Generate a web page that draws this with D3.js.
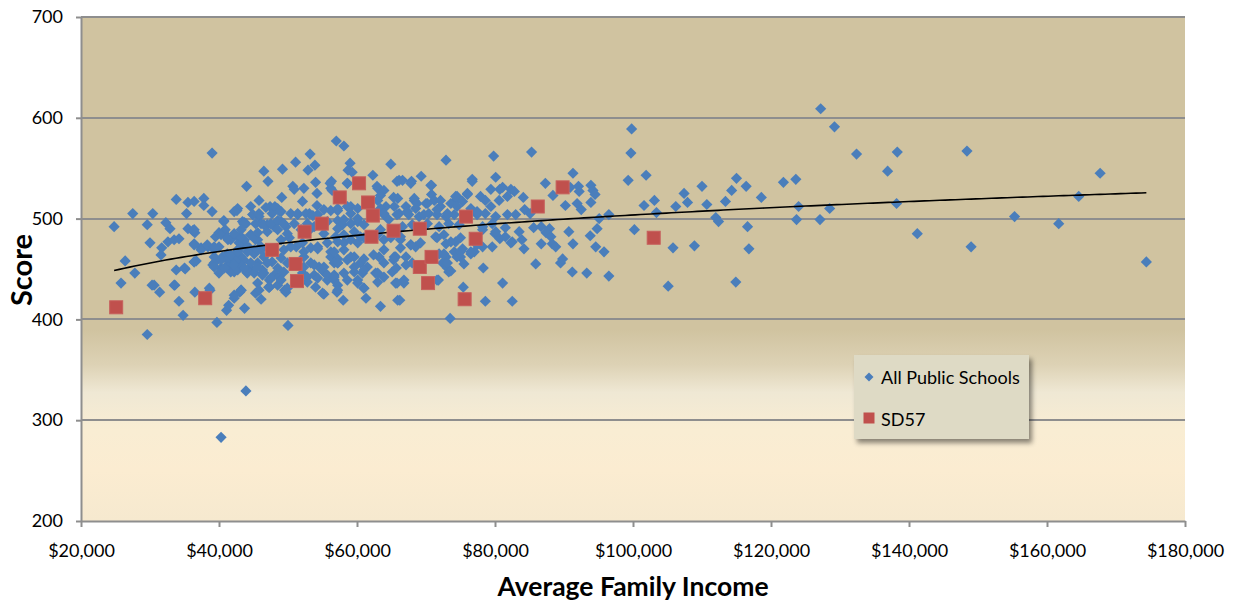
<!DOCTYPE html>
<html>
<head>
<meta charset="utf-8">
<script src="https://cdn.jsdelivr.net/npm/d3@7"></script>
<style>
html,body{margin:0;padding:0;background:#fff;}
svg{display:block;font-family:Lato,"Open Sans",sans-serif;}
</style>
</head>
<body>
<svg id="chart" width="1237" height="605"></svg>
<script>
// ---------- DATA (income in $ thousands, score) ----------
const seriesNames = ["All Public Schools", "SD57"];
const xTickValues = [20, 40, 60, 80, 100, 120, 140, 160, 180];
const yTickValues = [200, 300, 400, 500, 600, 700];

const allPublicSchools = [
[39.0,565],[24.8,492],[27.5,505],[30.4,505],[29.6,494],[30.0,476],[26.4,458],[25.8,436],[27.8,446],[30.3,434],[31.4,427],[29.6,385],[33.8,519],[35.5,516],[36.4,517],[37.8,520],[37.8,513],[35.3,505],[39.0,507],[32.3,496],[32.9,490],[31.7,471],[32.6,477],[33.5,479],[34.2,480],[35.5,490],[36.2,488],[36.5,486],[36.4,475],[35.1,450],[33.8,449],[33.6,434],[34.2,418],[34.8,404],[36.5,427],[38.7,429],[39.7,397],[37.4,471],[38.4,472],[36.7,458],[43.9,329],[40.3,283],[40.7,498],[42.6,508],[44.0,532],[46.5,547],[47.1,537],[49.2,549],[51.1,556],[53.2,564],[52.9,548],[53.9,553],[54.0,536],[50.7,532],[52.3,530],[54.2,525],[49.1,521],[45.8,518],[44.6,512],[43.7,496],[40.0,486],[40.7,487],[41.3,479],[42.9,476],[43.6,477],[39.3,456],[40.3,451],[41.3,454],[42.2,447],[44.0,447],[43.0,427],[42.2,421],[41.1,409],[41.4,414],[43.7,411],[45.3,426],[46.1,420],[50.0,394],[47.2,432],[49.5,429],[55.2,425],
[57.0,577],[58.1,572],[59.0,555],[58.7,548],[59.3,546],[64.9,554],[62.3,543],[56.3,537],[58.6,535],[50.9,529],[56.2,530],[63.0,530],[63.9,528],[63.4,523],[63.0,518],[65.3,521],[66.1,538],[42.7,510],[52.1,517],[54.2,513],[55.2,509],[56.2,508],[57.2,508],[59.1,512],[60.1,510],[64.2,512],[65.4,512],[47.4,512],[48.5,510],[47.7,505],[49.0,507],[50.4,505],[51.4,504],[53.1,505],[54.3,504],[44.9,504],[45.8,502],[43.4,497],[43.9,495],[42.2,507],[46.1,495],[47.0,494],[48.0,492],[49.0,497],[49.7,492],[50.9,495],[52.8,495],[53.8,492],[55.7,497],[57.2,498],[57.9,494],[59.1,495],[60.1,497],[61.0,494],[63.9,504],[64.6,499],
[41.7,479],[42.7,482],[43.7,479],[44.6,484],[45.6,479],[43.2,472],[44.4,471],[45.1,469],[46.1,472],[49.0,479],[50.2,481],[51.2,472],[52.1,476],[53.3,471],[54.3,472],[55.7,476],[57.2,477],[58.1,476],[59.1,479],[60.1,476],[61.0,481],[63.0,484],[63.9,479],[64.9,481],
[42.2,462],[43.6,459],[44.6,451],[45.6,456],[46.5,462],[47.7,457],[49.0,461],[49.9,456],[52.3,462],[53.3,456],[54.5,452],[56.2,462],[57.2,456],[58.6,459],[59.6,462],[60.5,456],[61.5,452],[63.2,462],[63.9,456],[65.4,462],
[41.7,447],[42.7,449],[44.1,446],[46.5,446],[48.0,444],[49.4,447],[52.1,446],[53.8,444],[55.2,447],[56.7,444],[58.1,446],[59.6,447],[60.8,446],[62.7,446],[63.9,442],[65.1,447],
[47.3,439],[48.5,434],[49.7,427],[52.8,437],[55.7,439],[54.0,432],[57.2,434],[60.1,439],[61.0,431],[63.0,437],[55.0,426],[57.1,427],[58.0,419],[61.3,421],[63.4,413],[65.9,419],[65.7,451],
[72.9,558],[79.8,562],[85.3,566],[66.6,538],[67.9,537],[69.3,542],[70.8,533],[70.8,524],[76.7,539],[80.1,541],[80.7,529],[81.1,531],[82.3,529],[82.8,527],[79.4,529],[76.0,524],[74.5,522],[74.3,518],[87.3,535],[88.4,523],[84.1,521],[84.3,509],[85.1,505],[85.6,491],[86.7,492],[87.9,490],[87.4,486],[88.1,482],[81.5,491],[83.5,487],[83.9,479],[84.2,470],[80.0,485],[80.7,480],[82.3,476],[79.6,472],[86.7,475],[88.3,475],[88.8,472],[85.9,455],[89.5,456],[78.3,451],[81.1,436],[78.6,418],[82.5,418],[73.5,401],[66.2,419],[65.6,436],[66.8,436],[71.8,439],[75.4,432],[77.0,467],[77.2,476],
[65.9,520],[67.1,512],[68.3,518],[68.5,510],[70.0,515],[71.2,518],[72.1,512],[73.6,515],[75.3,517],[76.5,510],[77.9,522],[78.6,518],[79.4,512],[80.6,518],[81.8,522],
[66.1,505],[67.5,504],[69.0,502],[70.4,505],[71.6,504],[72.9,502],[74.1,504],[76.1,505],[77.4,504],[78.6,505],[80.1,502],[81.8,504],[83.0,504],
[66.6,492],[68.0,494],[70.2,495],[71.9,492],[73.3,495],[74.8,494],[78.2,492],[79.6,495],
[66.3,482],[67.8,474],[71.4,482],[72.9,475],[74.3,477],[75.3,470],[78.2,489],[80.1,487],[81.5,482],[82.5,477],[66.3,471],[68.5,472],
[67.1,462],[65.6,462],[71.9,465],[72.9,462],[74.1,467],[75.0,462],[76.5,465],[72.4,456],[73.1,451],[73.3,447],[67.1,454],[68.0,456],[78.2,472],
[39.3,469],[40.0,472],[40.5,462],[41.2,465],[42.0,459],[42.7,469],[43.2,462],[44.1,472],[44.6,456],[45.1,465],[39.1,454],[40.0,446],[41.2,459],[43.2,454],[44.1,449],[45.1,446],
[40.8,485],[39.5,482],[41.3,452],[42.4,458],[46.3,449],[43.2,482],[46.1,469],[45.3,479],[35.0,451],[31.6,464],[30.6,434],[33.5,434],[36.4,457],[38.6,431],[43.2,429],[45.6,436],[47.3,432],[48.7,442],[49.9,431],
[56.1,535],[56.4,528],[46.8,511],[48.1,512],[48.8,507],[51.4,505],[52.6,505],[53.6,503],[44.9,504],[45.8,505],[43.6,495],[45.3,495],[46.5,494],[47.5,495],[48.5,498],[49.4,495],
[40.7,497],[40.9,489],[40.3,484],[41.2,481],[42.2,485],[43.2,489],[44.6,484],[45.6,486],[47.0,487],[48.5,489],[49.9,485],[51.9,489],[53.3,490],[55.2,485],[57.2,490],
[36.4,489],[36.4,474],[37.4,469],[38.3,474],[39.3,472],[36.4,457],
[39.3,462],[40.3,459],[41.7,464],[42.7,467],[44.1,467],[45.6,469],[49.4,469],[50.4,472],[52.3,467],[54.3,470],[56.2,467],[57.2,460],
[39.3,452],[40.8,451],[42.2,454],[43.6,451],[45.6,452],[47.0,456],[48.5,451],[52.3,452],[53.8,454],[55.2,452],[56.7,456],
[46.3,444],[47.5,441],[49.0,439],[52.8,442],[54.3,441],[55.7,444],[56.7,439],[47.3,432],[45.8,429],[43.2,429],[42.2,424],
[58.6,535],[62.9,532],[65.8,537],[68.3,520],[68.7,515],[70.7,533],[67.8,535],[70.2,515],[72.1,518],[74.3,522],[76.0,525],[76.7,537],
[57.2,510],[58.6,512],[59.1,505],[58.1,499],[60.1,500],[63.4,510],[63.9,505],[65.8,504],[67.3,507],[69.7,504],[71.6,509],[73.1,505],[74.5,512],[77.4,507],
[56.9,482],[58.1,484],[59.6,487],[60.5,482],[63.4,489],[65.3,485],[66.3,479],[67.8,474],[69.2,476],[71.6,481],[72.6,484],[73.6,477],[75.0,481],[77.4,474],[76.5,467],[74.5,462],[72.6,465],
[56.7,467],[58.1,469],[59.1,462],[61.0,460],[62.4,464],[63.9,469],[65.3,459],[57.2,456],[59.6,452],[61.0,449],[63.0,446],[56.7,442],[58.6,439],[60.1,436],[61.0,431],[57.2,429],[65.8,436],[66.8,439],[71.6,439],[73.1,456],[75.0,467],[75.5,455],[73.6,448],
[99.8,589],[99.7,565],[99.3,538],[101.9,543],[101.6,513],[103.1,518],[103.4,506],[100.2,489],[105.8,471],[105.1,433],[106.2,512],[107.4,525],[107.9,516],[108.9,473],[110.0,532],[110.7,514],[112.0,501],[112.4,497],[113.4,517],[114.3,528],[115.0,540],[116.4,532],[116.6,492],[116.8,470],[114.9,437],[118.6,521],[121.8,536],[123.6,539],[124.0,512],[123.7,499],[127.1,499],[127.2,609],[129.2,591],[128.5,510],[132.4,564],[136.9,547],[138.3,566],[138.2,515],[141.2,485],[148.4,567],[149.0,472],[155.3,502],[161.7,495],[164.6,522],[167.7,545],[174.4,457],
[91.3,545],[92.1,532],[92.2,527],[93.9,533],[94.2,528],[94.5,524],[90.9,531],[90.2,513],[91.9,515],[92.5,509],[93.9,516],[95.1,500],[96.5,504],[90.7,487],[91.3,475],[93.8,483],[94.8,490],[94.6,472],[95.8,467],[89.8,460],[91.2,447],[93.3,446],[96.5,443]
];

const sd57 = [
[25.1,412],[38.0,421],[47.7,469],[51.1,455],[51.3,438],[52.4,487],[54.9,495],[57.5,521],[60.3,535],[61.6,516],[62.3,503],[62.1,482],[65.3,488],[69.1,490],[69.1,452],[70.3,436],[70.8,462],[75.8,502],[77.2,480],[75.6,420],[86.2,512],[89.8,531],[103.0,481]
];

// ---------- LAYOUT ----------
const svg = d3.select("#chart");
const plot = {left: 81, top: 17, right: 1185, bottom: 521};

const x = d3.scaleLinear().domain([20, 180]).range([plot.left, plot.right]);
const y = d3.scaleLinear().domain([200, 700]).range([plot.bottom, plot.top]);

const defs = svg.append("defs");
const grad = defs.append("linearGradient").attr("id", "bg")
  .attr("x1", 0).attr("y1", 0).attr("x2", 0).attr("y2", 1);
[[0, "#d0c3a0"], [0.62, "#d0c3a0"], [0.69, "#ddd2b5"], [0.745, "#efe8d4"], [0.82, "#f9edd3"], [0.9, "#fbecd1"], [1, "#f6e9cf"]]
  .forEach(([o, c]) => grad.append("stop").attr("offset", o).attr("stop-color", c));

const shadow = defs.append("filter").attr("id", "shadow")
  .attr("x", "-20%").attr("y", "-20%").attr("width", "150%").attr("height", "160%");
shadow.append("feDropShadow").attr("dx", 3).attr("dy", 4).attr("stdDeviation", 2.5)
  .attr("flood-color", "#000").attr("flood-opacity", 0.45);

svg.append("rect")
  .attr("x", plot.left).attr("y", plot.top)
  .attr("width", plot.right - plot.left).attr("height", plot.bottom - plot.top)
  .attr("fill", "url(#bg)");

// gridlines
svg.append("g").selectAll("line")
  .data(yTickValues.filter(v => v > 200))
  .join("line")
  .attr("x1", plot.left).attr("x2", plot.right)
  .attr("y1", d => Math.round(y(d))).attr("y2", d => Math.round(y(d)))
  .attr("stroke", "#8e8e8e").attr("stroke-width", 2);

// axes
const fmt = d => "$" + d3.format(",")(d * 1000);
const xAxis = svg.append("g").attr("transform", `translate(0,${plot.bottom})`)
  .call(d3.axisBottom(x).tickValues(xTickValues).tickFormat(fmt).tickSize(6).tickSizeOuter(0).tickPadding(17));
const yAxis = svg.append("g").attr("transform", `translate(${plot.left},0)`)
  .call(d3.axisLeft(y).tickValues(yTickValues).tickSize(5).tickSizeOuter(0).tickPadding(13));
[xAxis, yAxis].forEach(a => {
  a.select(".domain").attr("stroke", "#8e8e8e").attr("stroke-width", 2);
  a.selectAll(".tick line").attr("stroke", "#8e8e8e").attr("stroke-width", 2);
  a.selectAll(".tick text").attr("fill", "#000").style("font-size", "18px").style("font-family", "Lato");
});

// blue diamonds
const dia = r => `M0,${-r}L${r},0L0,${r}L${-r},0Z`;
svg.append("g").selectAll("path")
  .data(allPublicSchools)
  .join("path")
  .attr("d", dia(5.6))
  .attr("transform", d => `translate(${x(d[0])},${y(d[1])})`)
  .attr("fill", "#4a7ebb");

// logarithmic trendline fitted to All Public Schools
const lx = allPublicSchools.map(d => Math.log(d[0]));
const ly = allPublicSchools.map(d => d[1]);
const mx = d3.mean(lx), my = d3.mean(ly);
const b = d3.sum(lx, (v, i) => (v - mx) * (ly[i] - my)) / d3.sum(lx, v => (v - mx) * (v - mx));
const a = my - b * mx;
const [xmin, xmax] = d3.extent(allPublicSchools, d => d[0]);
const trendX = d3.range(0, 201).map(i => xmin + (xmax - xmin) * i / 200);
svg.append("path")
  .datum(trendX)
  .attr("d", d3.line().x(v => x(v)).y(v => y(a + b * Math.log(v))))
  .attr("fill", "none").attr("stroke", "#000").attr("stroke-width", 1.6);

// red squares
svg.append("g").selectAll("rect")
  .data(sd57)
  .join("rect")
  .attr("x", d => x(d[0]) - 6.5).attr("y", d => y(d[1]) - 6.5)
  .attr("width", 13).attr("height", 13)
  .attr("fill", "#c0504d").attr("stroke", "#c65f5c").attr("stroke-width", 1);

// axis titles
svg.append("text")
  .attr("x", 633).attr("y", 596)
  .attr("text-anchor", "middle")
  .style("font-size", "26.5px").style("font-weight", "bold").style("font-family", "Lato")
  .text("Average Family Income");
svg.append("text")
  .attr("transform", "translate(32,270) rotate(-90)")
  .attr("text-anchor", "middle")
  .style("font-size", "29px").style("font-weight", "bold").style("font-family", "Lato")
  .text("Score");

// legend
const lg = svg.append("g");
lg.append("rect").attr("x", 854).attr("y", 355).attr("width", 175).attr("height", 84)
  .attr("fill", "#dedac5").attr("filter", "url(#shadow)");
lg.append("path").attr("d", dia(4.5)).attr("transform", "translate(869,377)").attr("fill", "#4a7ebb");
lg.append("rect").attr("x", 863.5).attr("y", 412.5).attr("width", 11).attr("height", 11)
  .attr("fill", "#c0504d");
lg.selectAll("text.lt").data(seriesNames).join("text")
  .attr("class", "lt")
  .attr("x", 881).attr("y", (d, i) => i === 0 ? 384 : 425.5)
  .style("font-size", "18px").style("font-family", "Lato").attr("fill", "#000")
  .text(d => d);
</script>
</body>
</html>
